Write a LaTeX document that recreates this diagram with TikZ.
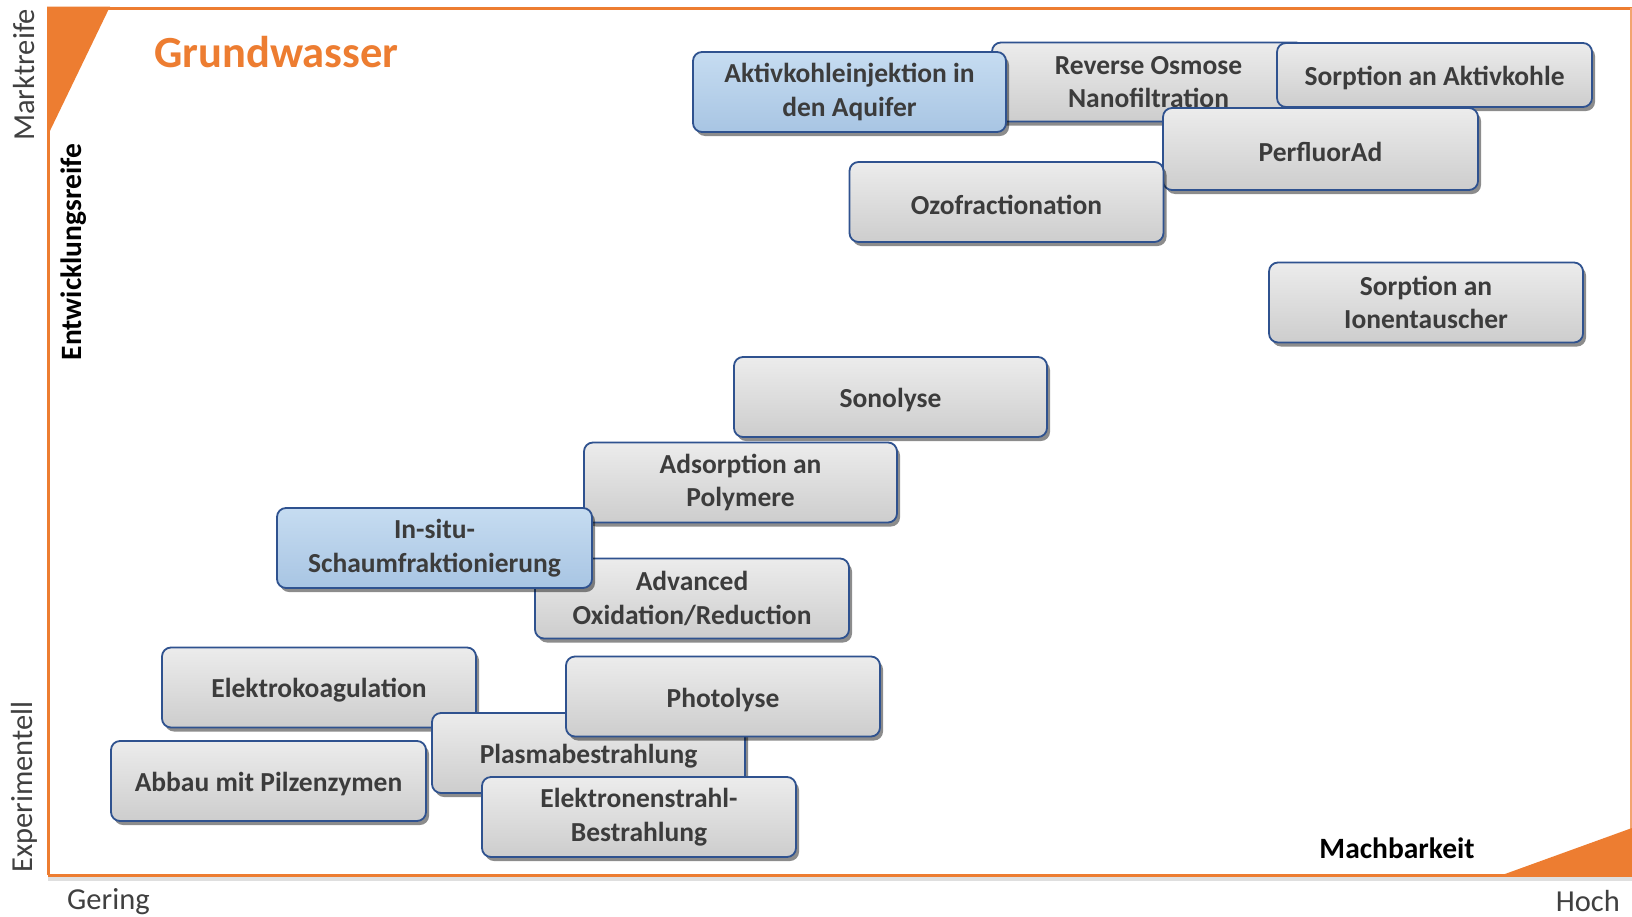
\documentclass[tikz,border=0pt]{standalone}
\usepackage{fontspec}
\setmainfont{Carlito}
\usetikzlibrary{shadows}
\definecolor{orng}{HTML}{ED7D31}
\definecolor{bordr}{HTML}{2F528F}
\definecolor{txtgray}{HTML}{3C3C3C}
\definecolor{axgray}{HTML}{404040}
\definecolor{gtop}{HTML}{ECECEC}
\definecolor{gbot}{HTML}{CDCDCD}
\definecolor{btop}{HTML}{C6DCF1}
\definecolor{bbot}{HTML}{A8C5E3}
\tikzset{
  box/.style={rectangle, rounded corners=9pt, draw=bordr, line width=1.8pt,
    minimum width=313pt, minimum height=80pt, inner sep=0pt, align=center,
    font=\fontsize{27.5}{33.5}\selectfont\bfseries, text=txtgray,
    top color=gtop, bottom color=gbot,
    execute at begin node={\rule{0pt}{25.5pt}},
    drop shadow={shadow xshift=3pt, shadow yshift=-4pt, opacity=0.45, fill=black}},
  bluebox/.style={box, top color=btop, bottom color=bbot},
  axlabel/.style={font=\fontsize{30.5}{34}\selectfont, text=axgray, inner sep=0pt},
  axbold/.style={font=\fontsize{29.5}{34}\selectfont\bfseries, text=black, inner sep=0pt},
}
\begin{document}
\begin{tikzpicture}[x=1pt,y=-1pt]
\useasboundingbox (0,0) rectangle (1632,916);
\fill[white] (0,0) rectangle (1632,916);
% frame
\draw[gray!25, line width=4pt] (48,879) -- (1632,879);
\draw[orng, line width=3pt] (48,8) -- (1632,8);
\draw[orng, line width=3pt] (48,8) -- (48,875);
\draw[orng, line width=3pt] (48,875) -- (1632,875);
\draw[orng!70, line width=1.5pt] (1631,8) -- (1631,875);
\fill[orng] (47,6.5) -- (110,6.5) -- (47,137) -- cycle;
\fill[orng] (1498,876.5) -- (1632,828) -- (1632,876.5) -- cycle;
% labels
\node[anchor=base west, font=\fontsize{44.5}{50}\selectfont\bfseries, text=orng, inner sep=0pt] (title) at (154,67.5) {Grundwasser};
\node[axlabel, rotate=90] (markt) at (24,75) {Marktreife};
\node[axlabel, rotate=90] (exper) at (24,787) {Experimentell};
\node[axbold, rotate=90] (entw) at (74,252) {Entwicklungsreife};
\node[axbold] (mach) at (1397,848) {Machbarkeit};
\node[axlabel, anchor=west] (gering) at (67,902) {Gering};
\node[axlabel, anchor=east] (hoch) at (1620,901) {Hoch};
% boxes
\node[box, minimum height=79pt] (reverse) at (1148.5,82) {Reverse Osmose\\Nanofiltration};
\node[bluebox] (aktiv) at (849.5,92) {Aktivkohleinjektion in\\den Aquifer};
\node[box, minimum width=315pt, minimum height=64pt] (sorpak) at (1434.5,75) {Sorption an Aktivkohle};
\node[box, minimum width=315pt, minimum height=82pt] (perfluor) at (1320.5,149) {PerfluorAd};
\node[box, minimum width=314pt] (ozo) at (1006.5,202) {Ozofractionation};
\node[box, minimum width=314pt] (ionen) at (1426,302.5) {Sorption an\\Ionentauscher};
\node[box] (sono) at (890.5,397) {Sonolyse};
\node[box] (adsorp) at (740.5,482.5) {Adsorption an\\Polymere};
\node[box, minimum width=314pt] (advanced) at (692,598.5) {Advanced\\Oxidation/Reduction};
\node[bluebox, minimum width=315pt] (insitu) at (434.5,548) {In-situ-\\Schaumfraktionierung};
\node[box, minimum width=314pt] (elko) at (319,687.5) {Elektrokoagulation};
\node[box, minimum width=315pt] (abbau) at (268.5,781) {Abbau mit Pilzenzymen};
\node[box] (plasma) at (588.5,753) {Plasmabestrahlung};
\node[box, minimum width=314pt] (photo) at (723,696.5) {Photolyse};
\node[box, minimum width=314pt] (elstr) at (639,817) {Elektronenstrahl-\\Bestrahlung};
\end{tikzpicture}
\end{document}
